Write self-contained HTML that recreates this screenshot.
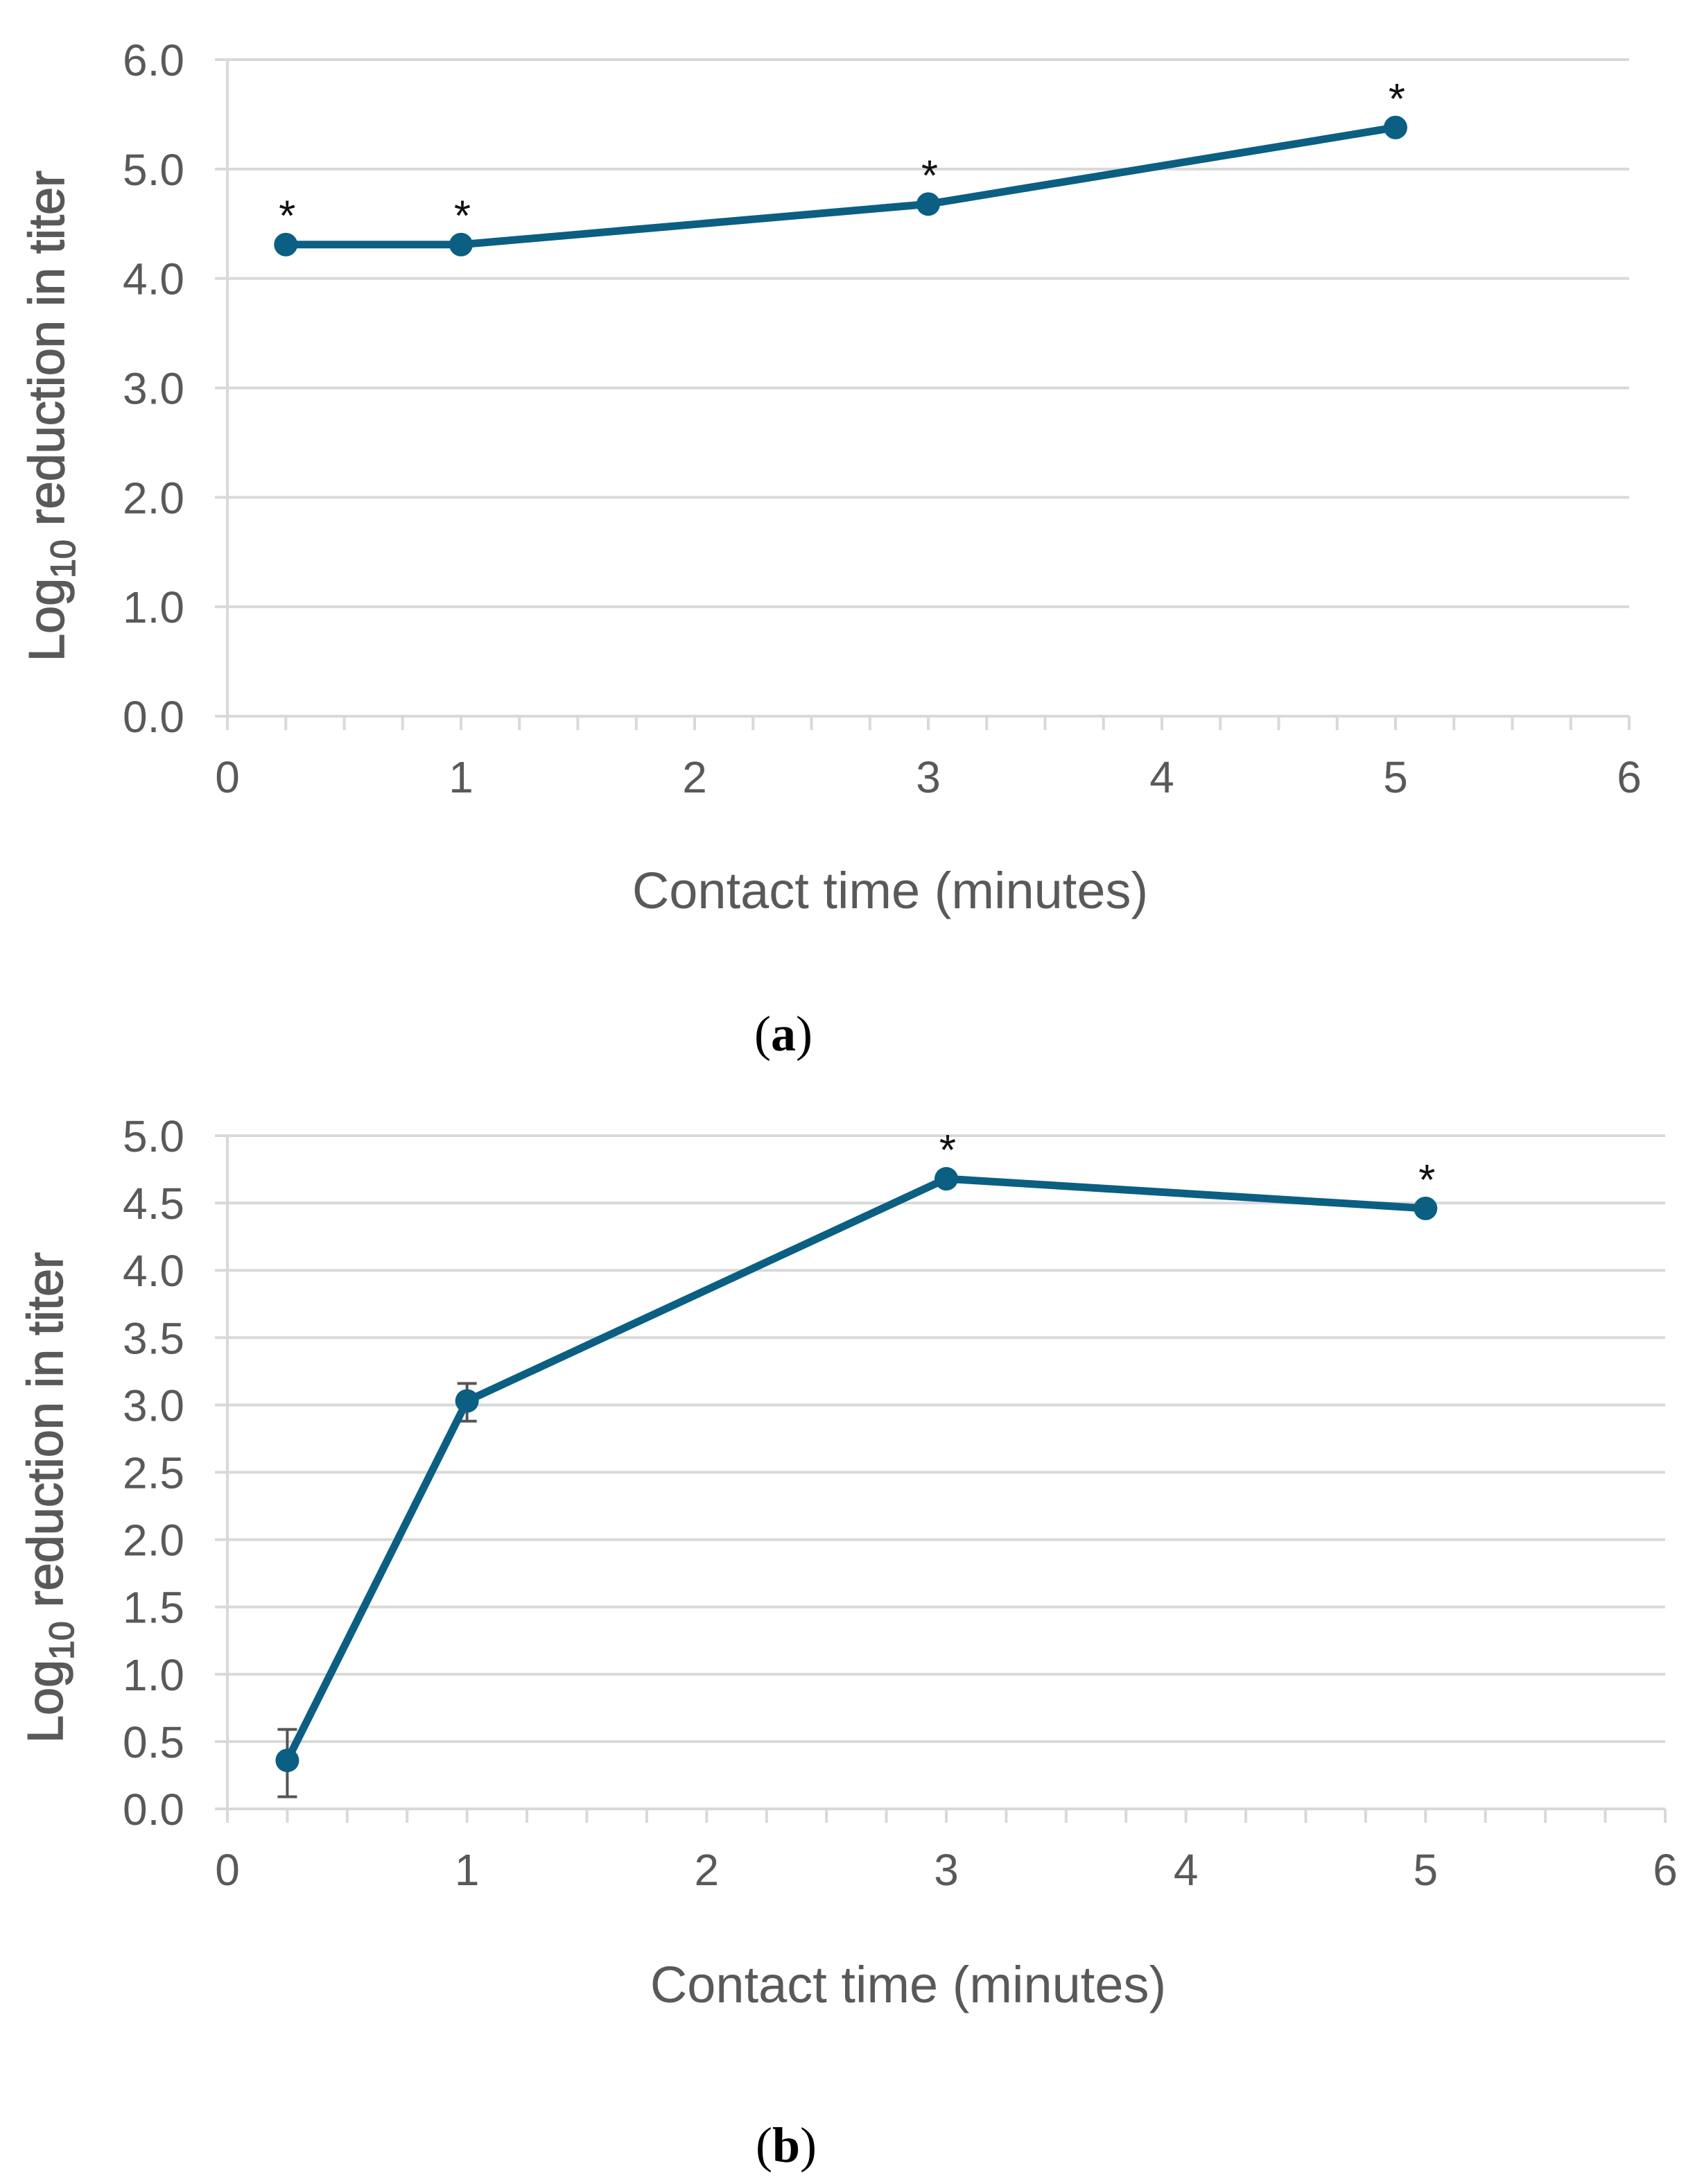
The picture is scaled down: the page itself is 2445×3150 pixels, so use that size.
<!DOCTYPE html>
<html><head><meta charset="utf-8"><style>
html,body{margin:0;padding:0;background:#fff;}
svg{display:block;}
</style></head><body>
<svg id="fig" width="2445" height="3150" viewBox="0 0 2445 3150" xmlns="http://www.w3.org/2000/svg">
<rect width="2445" height="3150" fill="#fff"/>
</svg>
<script>
// Panel (a)
const aTimes = [0.25, 1, 3, 5];
const aValues = [4.31, 4.31, 4.68, 5.38];
const aStars = [true, true, true, true];
const aYTicks = ["0.0","1.0","2.0","3.0","4.0","5.0","6.0"];
const aXTicks = ["0","1","2","3","4","5","6"];
// Panel (b)
const bTimes = [0.25, 1, 3, 5];
const bValues = [0.36, 3.03, 4.68, 4.46];
const bErrLow = [0.09, 2.88, 4.68, 4.46];
const bErrHigh = [0.59, 3.16, 4.68, 4.46];
const bStars = [false, false, true, true];
const bYTicks = ["0.0","0.5","1.0","1.5","2.0","2.5","3.0","3.5","4.0","4.5","5.0"];
const bXTicks = ["0","1","2","3","4","5","6"];

const NS = "http://www.w3.org/2000/svg";
const svg = document.getElementById('fig');
function mk(tag, attrs, parent){
  const e = document.createElementNS(NS, tag);
  for (const k in attrs) e.setAttribute(k, attrs[k]);
  (parent||svg).appendChild(e);
  return e;
}
const LINE = "#0b5f82";
const GRID = "#d9d9d9";
const TXT = "#595959";
const FONT = "'Liberation Sans', Arial, sans-serif";

function drawChart(p){
  const g = mk('g', {});
  
  
  const xs = v => p.x0 + (v - p.xmin) / (p.xmax - p.xmin) * (p.x1 - p.x0);
  const ys = v => p.y0 - (v - p.ymin) / (p.ymax - p.ymin) * (p.y0 - p.y1);
  p.yTicks.forEach(t => {
    const v = parseFloat(t);
    const y = ys(v);
    const gl = mk('line', {x1: p.x0 - 18, x2: p.x1, y1: y, y2: y, stroke: GRID, 'stroke-width': 4}, g);
    
    
    const tl = mk('text', {x: p.x0 - 62, y: y + 23, 'text-anchor': 'end', 'font-family': FONT, 'font-size': 64, fill: TXT}, g);
    tl.textContent = t;
    
    
  });
  const ya = mk('line', {x1: p.x0, x2: p.x0, y1: p.y1, y2: p.y0 + 20, stroke: GRID, 'stroke-width': 4}, g);
  
  
  for (let v = p.xmin; v <= p.xmax + 1e-9; v += 0.25) {
    const tk = mk('line', {x1: xs(v), x2: xs(v), y1: p.y0, y2: p.y0 + 20, stroke: GRID, 'stroke-width': 4}, g);
    
    
  }
  p.xTicks.forEach(t => {
    const v = parseFloat(t);
    const tl = mk('text', {x: xs(v), y: p.y0 + 110, 'text-anchor': 'middle', 'font-family': FONT, 'font-size': 64, fill: TXT}, g);
    tl.textContent = t;
    
    
  });
  if (p.errLow) {
    p.times.forEach((t, i) => {
      if (p.errHigh[i] - p.errLow[i] < 0.01) return;
      const x = xs(t), yl = ys(p.errLow[i]), yh = ys(p.errHigh[i]);
      const eb = mk('path', {d: `M${x},${yl}V${yh}M${x-14},${yl}H${x+14}M${x-14},${yh}H${x+14}`, stroke: '#555', 'stroke-width': 4, fill: 'none'}, g);
      
      
    });
  }
  const d = p.times.map((t, i) => (i ? 'L' : 'M') + xs(t) + ',' + ys(p.values[i])).join('');
  const ln = mk('path', {d: d, stroke: LINE, 'stroke-width': 11, fill: 'none', 'stroke-linejoin': 'round'}, g);
  
  
  p.times.forEach((t, i) => {
    const c = mk('circle', {cx: xs(t), cy: ys(p.values[i]), r: 17, fill: LINE}, g);
    
    
    if (p.stars[i]) {
      const s = mk('text', {x: xs(t) + 2, y: ys(p.values[i]) - 20, 'text-anchor': 'middle', 'font-family': FONT, 'font-size': 62, fill: '#111'}, g);
      s.textContent = '*';
      
      
    }
  });
  const yt = mk('text', {x: 0, y: 0, 'text-anchor': 'middle', 'font-family': FONT, 'font-size': 72, fill: TXT, stroke: TXT, 'stroke-width': 1.5, transform: `translate(${p.ytx},${p.yty}) rotate(-90)`}, g);
  yt.innerHTML = 'Log<tspan font-size="50" dy="16">10</tspan><tspan dy="-16"> reduction in titer</tspan>';
  
  
  const xt = mk('text', {x: p.xtx, y: p.xty, 'text-anchor': 'middle', 'font-family': FONT, 'font-size': 74, fill: TXT}, g);
  xt.textContent = 'Contact time (minutes)';
  
  
  const cp = mk('text', {x: p.cx, y: p.cy, 'text-anchor': 'middle', 'font-family': "'Liberation Serif', serif", 'font-size': 72, fill: '#000'}, g);
  cp.innerHTML = '(<tspan font-weight="bold">' + p.cap + '</tspan>)';
  
  
}

drawChart({name: 'chart-a', x0: 328, x1: 2350, y0: 1033, y1: 86, xmin: 0, xmax: 6, ymin: 0, ymax: 6,
  times: aTimes, values: aValues, stars: aStars, yTicks: aYTicks, xTicks: aXTicks,
  ytx: 92, yty: 600, xtx: 1284, xty: 1310, cx: 1130, cy: 1515, cap: 'a'});
drawChart({name: 'chart-b', x0: 328, x1: 2402, y0: 2609, y1: 1638, xmin: 0, xmax: 6, ymin: 0, ymax: 5,
  times: bTimes, values: bValues, stars: bStars, errLow: bErrLow, errHigh: bErrHigh, yTicks: bYTicks, xTicks: bXTicks,
  ytx: 90, yty: 2160, xtx: 1310, xty: 2888, cx: 1134, cy: 3118, cap: 'b'});
</script>
</body></html>
